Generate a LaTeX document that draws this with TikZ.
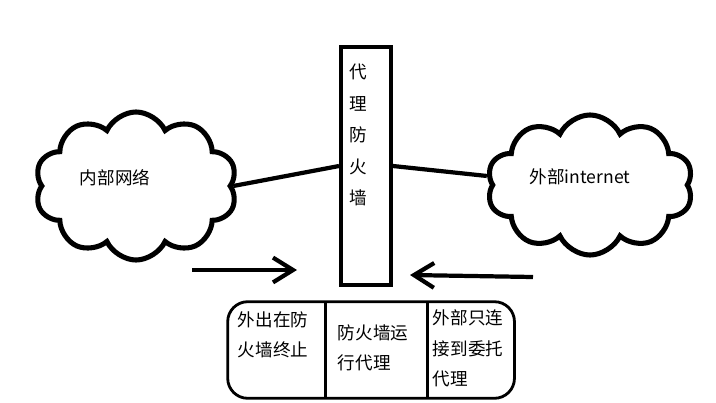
\documentclass[tikz,border=0pt]{standalone}
\usepackage{fontspec}
\setmainfont{Noto Sans CJK SC}
\usetikzlibrary{shapes.symbols}
\usetikzlibrary{arrows.meta}
\usetikzlibrary{positioning}

\tikzset{
  netcloud/.style={cloud, cloud puffs=10, cloud puff arc=130, cloud ignores aspect, draw=black, line width=3.6pt, inner sep=0pt},
  cjk/.style={font=\fontsize{12.5}{21.5}\selectfont, text=black, inner sep=0pt, align=left},
  link/.style={draw=black, line width=3pt},
  flow/.style={draw=black, line width=3pt, -{Straight Barb[length=0.5cm, width=0.62cm]}},
  cell/.style={rectangle, inner sep=0pt, minimum height=2.4cm},
}

\begin{document}
\begin{tikzpicture}[x=0.025cm, y=-0.025cm]
\useasboundingbox (0,0) rectangle (716,402);

% clouds
\node[netcloud, minimum width=5.05cm, minimum height=3.7cm] (lan) at (136,186) {};
\node[cjk] (lantext) at (115,178) {内部网络};
\node[netcloud, minimum width=5.15cm, minimum height=3.5cm] (wan) at (590,185) {};
\node[cjk] (wantext) at (580,177) {外部internet};

% firewall
\node[rectangle, draw=black, line width=2.8pt, minimum width=1.25cm, minimum height=5.95cm, inner sep=0pt] (fw) at (366,166) {};
\node[cjk, align=center, font=\fontsize{12.5}{22.4}\selectfont] (fwtext) at (358,135) {代\\理\\防\\火\\墙};

\draw[link] (lan.east) -- (fw.west);
\draw[link] (fw.east) -- (wan.175);

% arrows
\coordinate (outA) at (192,270);
\coordinate (outB) at (297,270);
\coordinate (inA) at (533,277);
\coordinate (inB) at (410,275);
\draw[flow] (outA) -- (outB);
\draw[flow] (inA) -- (inB);

% table
\node[cell, minimum width=2.425cm] (c1) at (276.5,350) {};
\node[cell, minimum width=2.55cm, right=0pt of c1] (c2) {};
\node[cell, minimum width=2.15cm, right=0pt of c2] (c3) {};
\draw[black, line width=2pt, rounded corners=0.5cm] (c1.north west) rectangle (c3.south east);
\draw[black, line width=2pt] (c1.north east) -- (c1.south east);
\draw[black, line width=2pt] (c2.north east) -- (c2.south east);
\node[cjk] (t1) at (273,335) {外出在防\\火墙终止};
\node[cjk] (t2) at (373,347.5) {防火墙运\\行代理};
\node[cjk] (t3) at (468,348.5) {外部只连\\接到委托\\代理};

\end{tikzpicture}
\end{document}
